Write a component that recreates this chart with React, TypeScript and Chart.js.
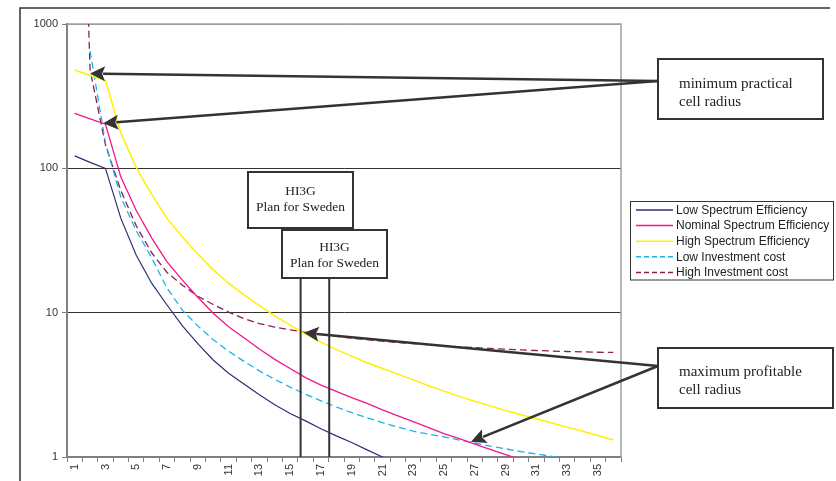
import React, { useEffect, useRef } from 'react';
import { Chart, registerables } from 'chart.js';

Chart.register(...registerables);

// ---- data ----
const cellRadius = ['1','2','3','4','5','6','7','8','9','10','11','12','13','14','15','16','17','18',
  '19','20','21','22','23','24','25','26','27','28','29','30','31','32','33','34','35','36'];

const lowSpectrum = [122, 110, 100, 45, 25, 16, 11.3, 8.1, 6.1, 4.7, 3.8, 3.2, 2.7, 2.3, 2.0, 1.78, 1.57, 1.4,
  1.26, 1.12, 1.0, 0.9, null, null, null, null, null, null, null, null, null, null, null, null, null, null];

const nominalSpectrum = [240, 220, 202, 87, 51, 33, 22.5, 16.8, 12.8, 9.9, 8.0, 6.7, 5.6, 4.75, 4.1, 3.55, 3.15, 2.85,
  2.58, 2.35, 2.12, 1.93, 1.76, 1.6, 1.45, 1.34, 1.23, 1.13, 1.04, 0.96, null, null, null, null, null, null];

const highSpectrum = [480, 440, 405, 176, 101, 66, 45, 33.5, 25.5, 19.8, 16, 13.3, 11.2, 9.5, 8.2, 7.1, 6.25, 5.55,
  5.0, 4.5, 4.1, 3.75, 3.42, 3.12, 2.86, 2.63, 2.43, 2.26, 2.1, 1.96, 1.84, 1.72, 1.61, 1.51, 1.41, 1.31];

const lowInvestment = [null, 650, 150, 63, 37, 24, 14.8, 10.4, 8.1, 6.5, 5.4, 4.6, 3.95, 3.45, 3.05, 2.72, 2.45, 2.22,
  2.03, 1.87, 1.73, 1.61, 1.51, 1.44, 1.38, 1.31, 1.25, 1.19, 1.14, 1.09, 1.05, 1.01, 0.97, null, null, null];

const highInvestment = [1000000, 480, 145, 70, 40, 26, 19, 15.5, 13, 11.4, 10.1, 9.1, 8.4, 7.95, 7.6, 7.3, 7.05, 6.85,
  6.65, 6.5, 6.35, 6.2, 6.1, 6.0, 5.9, 5.8, 5.72, 5.65, 5.58, 5.52, 5.47, 5.42, 5.38, 5.35, 5.32, 5.3];

const yTickValues = [1, 10, 100, 1000];

const seriesNames = ['Low Spectrum Efficiency', 'Nominal Spectrum Efficiency', 'High Spectrum Efficiency',
  'Low Investment cost', 'High Investment cost'];

// annotation anchors (category position 1-based, value)
const hi3gPositions = [15.68, 17.54];
const minArrowTips = [{ cat: 2.0, value: 454 }, { cat: 2.86, value: 205 }];
const maxArrowTips = [{ cat: 15.89, value: 7.26 }, { cat: 26.75, value: 1.276 }];

// ---- styles ----
const SANS = '"Liberation Sans", Arial, Helvetica, sans-serif';
const SERIF = '"Liberation Serif", "Times New Roman", Times, serif';
const colors = ['#2E2E78', '#F2178C', '#FFF000', '#1EB0EC', '#8E1F55'];
const widths = [1.2, 1.3, 1.5, 1.3, 1.3];
const dashes: number[][] = [[], [], [], [7, 4], [7, 4]];
const DARK = '#333333';

function drawArrow(ctx: CanvasRenderingContext2D, x0: number, y0: number, x1: number, y1: number) {
  const ang = Math.atan2(y1 - y0, x1 - x0);
  const len = 15;
  const half = 7.5;
  const bx = x1 - len * Math.cos(ang);
  const by = y1 - len * Math.sin(ang);
  ctx.save();
  ctx.strokeStyle = DARK;
  ctx.fillStyle = DARK;
  ctx.lineWidth = 2.5;
  ctx.setLineDash([]);
  ctx.beginPath();
  ctx.moveTo(x0, y0);
  ctx.lineTo(bx + 2 * Math.cos(ang), by + 2 * Math.sin(ang));
  ctx.stroke();
  ctx.beginPath();
  ctx.moveTo(x1, y1);
  ctx.lineTo(bx + half * Math.sin(ang), by - half * Math.cos(ang));
  ctx.lineTo(bx + 3 * Math.cos(ang), by + 3 * Math.sin(ang));
  ctx.lineTo(bx - half * Math.sin(ang), by + half * Math.cos(ang));
  ctx.closePath();
  ctx.fill();
  ctx.restore();
}

function drawBox(ctx: CanvasRenderingContext2D, x: number, y: number, w: number, h: number) {
  ctx.save();
  ctx.fillStyle = '#ffffff';
  ctx.fillRect(x, y, w, h);
  ctx.strokeStyle = DARK;
  ctx.lineWidth = 2;
  ctx.setLineDash([]);
  ctx.strokeRect(x, y, w, h);
  ctx.restore();
}

function drawLines(ctx: CanvasRenderingContext2D, lines: string[], x: number, baselines: number[], font: string, align: CanvasTextAlign) {
  ctx.save();
  ctx.fillStyle = '#222222';
  ctx.font = font;
  ctx.textAlign = align;
  ctx.textBaseline = 'alphabetic';
  lines.forEach((t, i) => ctx.fillText(t, x, baselines[i]));
  ctx.restore();
}

const overlayPlugin = {
  id: 'overlay',
  beforeDatasetsDraw(chart: any) {
    const { ctx, chartArea } = chart;
    ctx.save();
    ctx.strokeStyle = '#a0a0a0';
    ctx.lineWidth = 1.5;
    ctx.beginPath();
    ctx.moveTo(chartArea.left, chartArea.top);
    ctx.lineTo(chartArea.right, chartArea.top);
    ctx.lineTo(chartArea.right, chartArea.bottom);
    ctx.stroke();
    ctx.restore();
  },
  afterDraw(chart: any) {
    const { ctx, chartArea } = chart;
    const xs = chart.scales.x;
    const ys = chart.scales.y;

    // outer frame
    ctx.save();
    ctx.strokeStyle = DARK;
    ctx.lineWidth = 1.5;
    ctx.beginPath();
    ctx.moveTo(20, 481);
    ctx.lineTo(20, 8);
    ctx.lineTo(830, 8);
    ctx.stroke();
    ctx.restore();

    // HI3G markers
    const hx = hi3gPositions.map((c) => xs.getPixelForValue(c - 1));
    ctx.save();
    ctx.strokeStyle = DARK;
    ctx.lineWidth = 2;
    ctx.beginPath();
    ctx.moveTo(hx[0], 228);
    ctx.lineTo(hx[0], chartArea.bottom);
    ctx.stroke();
    ctx.restore();
    drawBox(ctx, 248, 172, 105, 56);
    drawLines(ctx, ['HI3G', 'Plan for Sweden'], 300.5, [194.5, 210.5], `13.5px ${SERIF}`, 'center');
    ctx.save();
    ctx.strokeStyle = DARK;
    ctx.lineWidth = 2;
    ctx.beginPath();
    ctx.moveTo(hx[1], 278);
    ctx.lineTo(hx[1], chartArea.bottom);
    ctx.stroke();
    ctx.restore();
    drawBox(ctx, 282, 230, 105, 48);
    drawLines(ctx, ['HI3G', 'Plan for Sweden'], 334.5, [251, 267], `13.5px ${SERIF}`, 'center');

    // arrows
    minArrowTips.forEach((t) => {
      drawArrow(ctx, 658, 81, xs.getPixelForValue(t.cat - 1), ys.getPixelForValue(t.value));
    });
    maxArrowTips.forEach((t) => {
      drawArrow(ctx, 658, 366, xs.getPixelForValue(t.cat - 1), ys.getPixelForValue(t.value));
    });
    drawBox(ctx, 658, 59, 165, 60);
    drawLines(ctx, ['minimum practical', 'cell radius'], 679, [87.5, 105.5], `15px ${SERIF}`, 'left');
    drawBox(ctx, 658, 348, 175, 60);
    drawLines(ctx, ['maximum profitable', 'cell radius'], 679, [376, 393.5], `15px ${SERIF}`, 'left');

    // legend
    ctx.save();
    ctx.fillStyle = '#ffffff';
    ctx.fillRect(630.5, 201.5, 203, 78.5);
    ctx.strokeStyle = DARK;
    ctx.lineWidth = 1;
    ctx.strokeRect(630.5, 201.5, 203, 78.5);
    seriesNames.forEach((name, i) => {
      const y = 210 + i * 15.6;
      ctx.strokeStyle = colors[i];
      ctx.lineWidth = Math.max(1.5, widths[i]);
      ctx.setLineDash(dashes[i].length ? [5, 3] : []);
      ctx.beginPath();
      ctx.moveTo(636, y);
      ctx.lineTo(673, y);
      ctx.stroke();
      ctx.setLineDash([]);
      ctx.fillStyle = '#222222';
      ctx.font = `12px ${SANS}`;
      ctx.textAlign = 'left';
      ctx.textBaseline = 'middle';
      ctx.fillText(name, 676, y + 0.5);
    });
    ctx.restore();
  },
};

export default function App() {
  const ref = useRef<HTMLCanvasElement>(null);

  useEffect(() => {
    const canvas = ref.current;
    if (!canvas) return;
    const seriesData = [lowSpectrum, nominalSpectrum, highSpectrum, lowInvestment, highInvestment];
    const chart = new Chart(canvas, {
      type: 'line',
      data: {
        labels: cellRadius,
        datasets: seriesData.map((d, i) => ({
          label: seriesNames[i],
          data: d,
          borderColor: colors[i],
          backgroundColor: colors[i],
          borderWidth: widths[i],
          borderDash: dashes[i],
          pointRadius: 0,
          pointHoverRadius: 0,
          tension: 0,
          fill: false,
          spanGaps: false,
        })),
      },
      options: {
        animation: false,
        responsive: false,
        devicePixelRatio: 1,
        events: [],
        layout: { padding: { left: 20, top: 24, right: 215, bottom: 0 } },
        plugins: {
          legend: { display: false },
          tooltip: { enabled: false },
          title: { display: false },
        },
        scales: {
          x: {
            type: 'category',
            offset: true,
            grid: {
              offset: true,
              drawOnChartArea: false,
              drawTicks: true,
              tickLength: 5,
              color: '#808080',
              lineWidth: 1,
            },
            border: { display: true, color: '#808080', width: 1.5 },
            ticks: {
              autoSkip: false,
              maxRotation: 90,
              minRotation: 90,
              padding: 2,
              color: '#333333',
              font: { family: SANS, size: 11 },
              callback: (_v: any, index: number) => (index % 2 === 0 ? cellRadius[index] : ''),
            },
            afterFit: (scale: any) => {
              scale.height = 24;
            },
          },
          y: {
            type: 'logarithmic',
            min: 1,
            max: 1000,
            grid: {
              drawTicks: true,
              tickLength: 5,
              tickColor: '#808080',
              lineWidth: 1,
              color: (c: any) => {
                const v = c.tick && c.tick.value;
                if (v === 1000) return '#a0a0a0';
                if (v === 1) return '#808080';
                return '#333333';
              },
            },
            border: { display: true, color: '#808080', width: 2 },
            ticks: {
              padding: 4,
              color: '#333333',
              font: { family: SANS, size: 11 },
              callback: (v: any) => String(v),
            },
            afterBuildTicks: (scale: any) => {
              scale.ticks = yTickValues.map((v) => ({ value: v }));
            },
            afterFit: (scale: any) => {
              scale.width = 47;
            },
          },
        },
      },
      plugins: [overlayPlugin],
    } as any);
    return () => chart.destroy();
  }, []);

  return (
    <div style={{ position: 'absolute', left: 0, top: 0, width: 836, height: 481, background: '#ffffff' }}>
      <canvas ref={ref} width={836} height={481} style={{ display: 'block', width: 836, height: 481 }} />
    </div>
  );
}
